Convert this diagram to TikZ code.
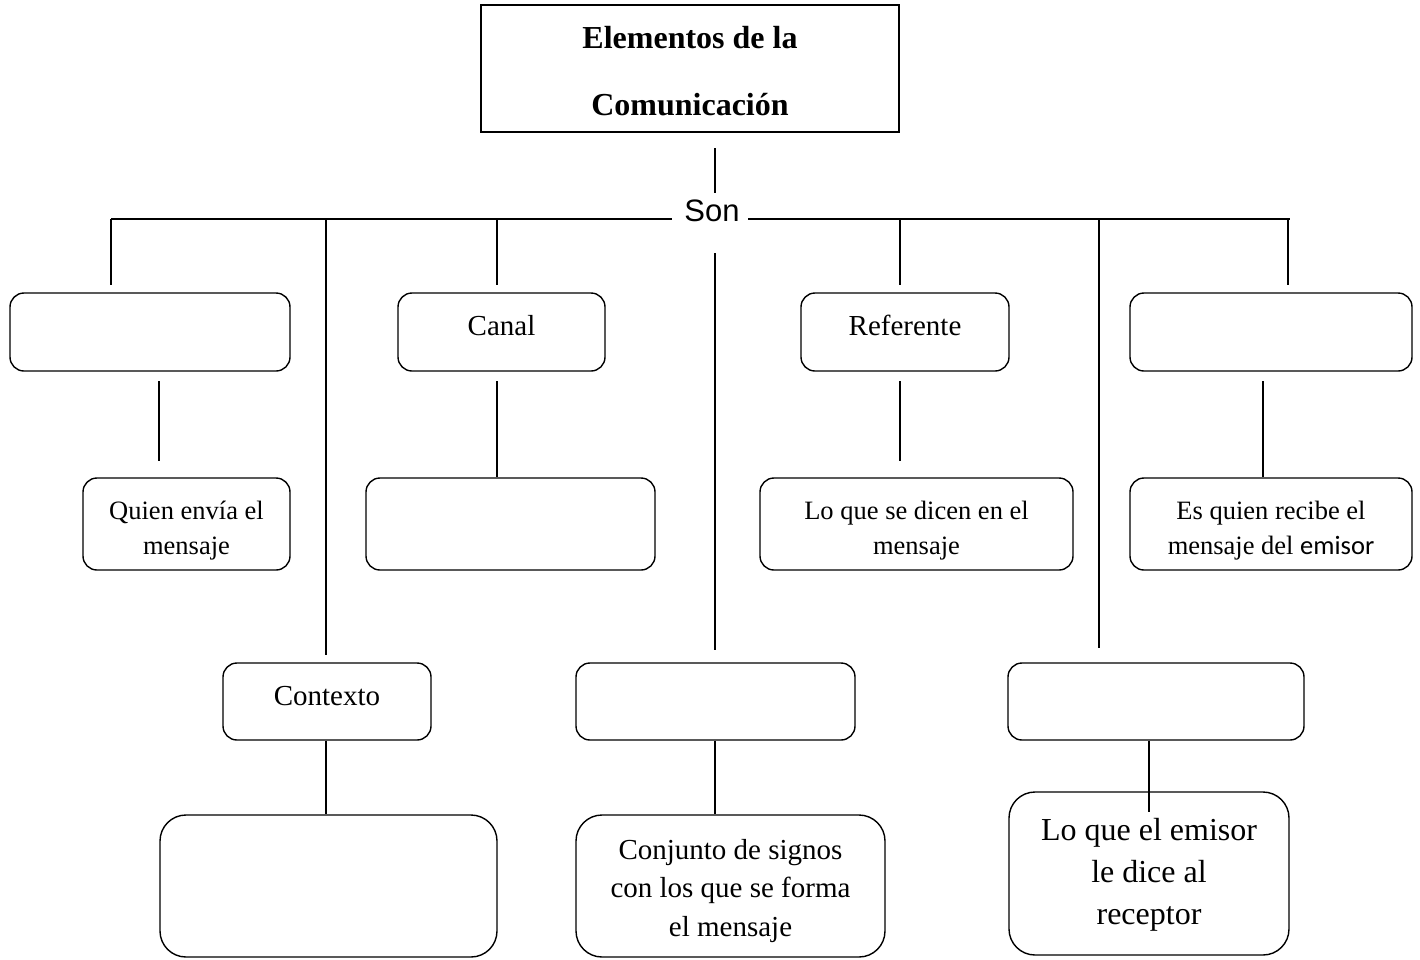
\documentclass[tikz,border=0pt]{standalone}
\usepackage{fontspec}
\setmainfont{Liberation Serif}
\newfontfamily\arialf{Liberation Sans}
\newfontfamily\calib{Carlito}
\begin{document}
\begin{tikzpicture}[x=1pt,y=-1pt,line width=1.4pt,
  rbox/.style={draw,rounded corners=14pt,inner sep=0pt,align=center},
  bigbox/.style={draw,rounded corners=26pt,inner sep=0pt,align=center},
  txt/.style={inner sep=0pt,align=center},
  fsmall/.style={font=\fontsize{26.5}{35}\selectfont},
  fmid/.style={font=\fontsize{29}{38.5}\selectfont},
  fbig/.style={font=\fontsize{32}{42}\selectfont},
  conn/.style={draw,line width=1.4pt}]
\useasboundingbox (0,0) rectangle (1420,959);

% title
\node[draw,inner sep=0pt,minimum width=418pt,minimum height=127pt] (T) at (690,68.5) {};
\node[txt,font=\fontsize{32}{67}\selectfont\bfseries] (Tt) at ([yshift=-2.5pt]T.center)
      {Elementos de la\\Comunicación};
\node[inner sep=0pt,font=\arialf\fontsize{31}{36}\selectfont] (Son) at (712,211) {Son};

% row 1
\node[rbox,minimum width=280pt,minimum height=78pt] (A) at (150,332) {};
\node[rbox,minimum width=207pt,minimum height=78pt] (Canal) at (501.5,332) {};
\node[txt,fmid] (Canalt) at ([yshift=6pt]Canal.center) {Canal};
\node[rbox,minimum width=208pt,minimum height=78pt] (Ref) at (905,332) {};
\node[txt,fmid] (Reft) at ([yshift=7pt]Ref.center) {Referente};
\node[rbox,minimum width=282pt,minimum height=78pt] (D) at (1271,332) {};

% row 2
\node[rbox,minimum width=207pt,minimum height=92pt] (Q) at (186.5,524) {};
\node[txt,fsmall] (Qt) at ([yshift=-7pt]Q.center) {Quien envía el\\mensaje};
\node[rbox,minimum width=289pt,minimum height=92pt] (C2) at (510.5,524) {};
\node[rbox,minimum width=313pt,minimum height=92pt] (L) at (916.5,524) {};
\node[txt,fsmall] (Lt) at ([yshift=-7pt]L.center) {Lo que se dicen en el\\mensaje};
\node[rbox,minimum width=282pt,minimum height=92pt] (E) at (1271,524) {};
\node[txt,fsmall] (Et) at ([yshift=-7pt]E.center) {Es quien recibe el\\mensaje del {\calib emisor}};

% row 3
\node[rbox,minimum width=208pt,minimum height=77pt] (Ctx) at (327,701.5) {};
\node[txt,fmid] (Ctxt) at ([yshift=5pt]Ctx.center) {Contexto};
\node[rbox,minimum width=279pt,minimum height=77pt] (M3) at (715.5,701.5) {};
\node[rbox,minimum width=296pt,minimum height=77pt] (R3) at (1156,701.5) {};

% row 4
\node[bigbox,minimum width=337pt,minimum height=142pt] (B1) at (328.5,886) {};
\node[bigbox,minimum width=309pt,minimum height=142pt] (Cj) at (730.5,886) {};
\node[txt,fmid] (Cjt) at ([yshift=-5pt]Cj.center)
  {Conjunto de signos\\con los que se forma\\el mensaje};
\node[bigbox,minimum width=280pt,minimum height=163pt] (Le) at (1149,873.5) {};
\node[txt,fbig] (Let) at ([yshift=-1pt]Le.center)
  {Lo que el emisor\\le dice al\\receptor};

% coordinates
\coordinate (t1) at (715,148); \coordinate (t2) at (715,193);
\coordinate (hL) at (111,219); \coordinate (hLe) at (672,219);
\coordinate (hRs) at (748,219); \coordinate (hR) at (1290,219);
\coordinate (kA) at (111,285);
\coordinate (kCtx) at (326,655);
\coordinate (kCanal) at (497,285);
\coordinate (kM0) at (715,253); \coordinate (kM) at (715,650);
\coordinate (kRef) at (900,285);
\coordinate (kR3) at (1099,648);
\coordinate (kD) at (1288,285);
\coordinate (a1) at (159,381); \coordinate (a2) at (159,461);
\coordinate (c1) at (497,381);
\coordinate (r1) at (900,381); \coordinate (r2) at (900,461);
\coordinate (d1) at (1263,381);
\coordinate (x1) at (1149,812);

% connectors
\draw[conn] (t1) -- (t2);
\draw[conn] (hL) -- (hLe);
\draw[conn] (hRs) -- (hR);
\draw[conn] (kA |- hL) -- (kA);
\draw[conn] (kCtx |- hL) -- (kCtx);
\draw[conn] (kCanal |- hL) -- (kCanal);
\draw[conn] (kM0) -- (kM);
\draw[conn] (kRef |- hL) -- (kRef);
\draw[conn] (kR3 |- hL) -- (kR3);
\draw[conn] (kD |- hL) -- (kD);
\draw[conn] (a1) -- (a2);
\draw[conn] (c1) -- (c1 |- C2.north);
\draw[conn] (r1) -- (r2);
\draw[conn] (d1) -- (d1 |- E.north);
\draw[conn] (Ctx.south -| kCtx) -- (kCtx |- B1.north);
\draw[conn] (M3.south -| kM) -- (kM |- Cj.north);
\draw[conn] (R3.south -| x1) -- (x1);
\end{tikzpicture}
\end{document}
